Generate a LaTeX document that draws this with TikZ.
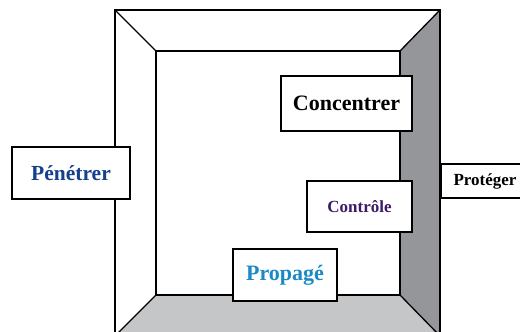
\documentclass[tikz,border=0pt]{standalone}
\usepackage{fontspec}
\setmainfont{Liberation Serif}
\definecolor{wallgray}{HTML}{95969A}
\definecolor{floorgray}{HTML}{C5C6C8}
\definecolor{penblue}{HTML}{16408C}
\definecolor{propblue}{HTML}{1A8AC4}
\definecolor{ctrlpurple}{HTML}{3C1C68}
\tikzset{
  edge/.style={line width=1.3pt, line join=miter},
  label box/.style={draw, fill=white, line width=1.3pt, inner sep=0pt,
    font=\bfseries},
}
\begin{document}
\begin{tikzpicture}[x=1pt,y=-1pt]
\useasboundingbox (0,0) rectangle (520,332);
\clip (0,0) rectangle (520,332);
% corners of the room in perspective
\coordinate (otl) at (115,10);
\coordinate (otr) at (440,10);
\coordinate (obl) at (115,336);
\coordinate (obr) at (440,336);
\coordinate (itl) at (156,51);
\coordinate (itr) at (400,51);
\coordinate (ibl) at (156,295);
\coordinate (ibr) at (400,295);
% shaded right wall and floor
\fill[wallgray] (itr) -- (otr) -- (obr) -- (ibr) -- cycle;
\fill[floorgray] (ibl) -- (ibr) -- (obr) -- (obl) -- cycle;
% edges of the room
\draw[edge] (obl) -- (otl) -- (otr) -- (obr);
\draw[edge] (itl) rectangle (ibr);
\draw[edge] (otl) -- (itl) (otr) -- (itr) (ibl) -- (obl) (ibr) -- (obr);
% labels
\node[label box, minimum width=131pt, minimum height=55pt, font=\bfseries\fontsize{22}{24}\selectfont]
  (conc) at (346.5,103.5) {Concentrer};
\node[label box, minimum width=105pt, minimum height=51pt, text=ctrlpurple, font=\bfseries\fontsize{17}{19}\selectfont]
  (ctrl) at (359.5,206.5) {Contrôle};
\node[label box, minimum width=104pt, minimum height=52pt, text=propblue, font=\bfseries\fontsize{22}{24}\selectfont]
  (prop) at (285,275) {Propagé};
\node[label box, minimum width=118pt, minimum height=52pt, text=penblue, font=\bfseries\fontsize{21.5}{24}\selectfont]
  (pene) at (71,173) {Pénétrer};
\node[label box, minimum width=88pt, minimum height=34pt, font=\bfseries\fontsize{17}{19}\selectfont]
  (prot) at (485,181) {Protéger};
\end{tikzpicture}
\end{document}
